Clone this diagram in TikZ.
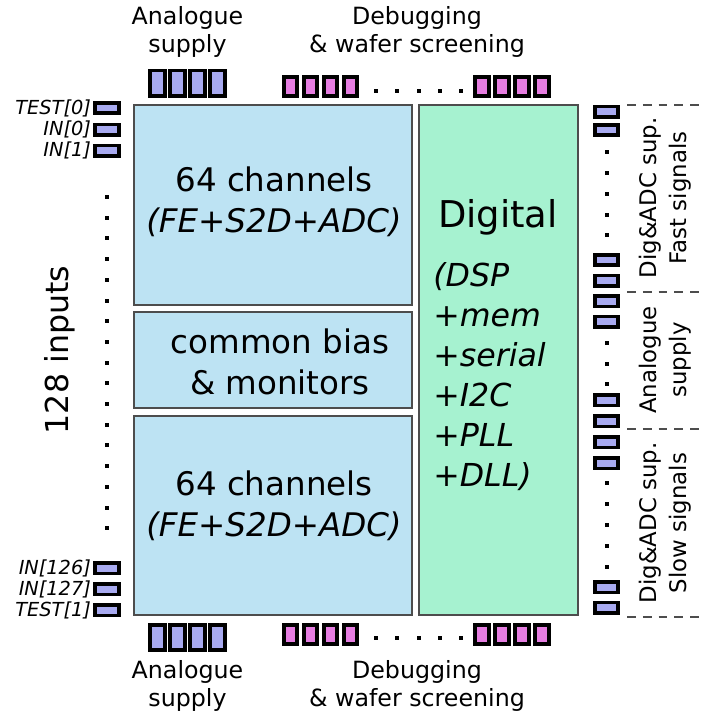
\documentclass[tikz,border=0pt]{standalone}
\usepackage{fontspec}
\setmainfont{DejaVu Sans}
\usetikzlibrary{positioning,calc}

\definecolor{chanblue}{HTML}{BDE3F3}
\definecolor{digigreen}{HTML}{A6F2D0}
\definecolor{padblue}{HTML}{A8AAF0}
\definecolor{padpink}{HTML}{E67DE1}
\definecolor{blockline}{HTML}{4D4D4D}

\begin{document}
\begin{tikzpicture}[x=0.02cm, y=-0.02cm,
				      every node/.style={align=center, inner sep=0pt},
				      block/.style={
						      draw=blockline, line width=1pt,
						      fill=chanblue, minimum width=5.56cm
					      },
				      digiblock/.style={
						      draw=blockline, line width=1pt,
						      fill=digigreen, minimum width=3.18cm, minimum height=10.2cm
					      },
				      bigtext/.style={font=\fontsize{18.5}{23.3}\selectfont},
				      padtext/.style={font=\fontsize{13.5}{16}\selectfont},
				      sidetext/.style={font=\fontsize{13}{17}\selectfont, rotate=90},
				      apad/.style={
						      draw, line width=2pt, fill=padblue,
						      minimum width=0.31cm, minimum height=0.51cm
					      },
				      dpad/.style={
						      draw, line width=2pt, fill=padpink,
						      minimum width=0.27cm, minimum height=0.39cm
					      },
				      inpad/.style={
						      draw, line width=2pt, fill=padblue,
						      minimum width=0.49cm, minimum height=0.21cm
					      },
				      rpad/.style={
						      draw, line width=2pt, fill=padblue,
						      minimum width=0.47cm, minimum height=0.21cm
					      },
				      pindot/.style={fill=black, minimum size=0.08cm},
				      sepline/.style={draw=blockline, line width=0.7pt, dash pattern=on 5pt off 4pt}
			      ]
			      \useasboundingbox (0,0) rectangle (704,718);

			      % Analogue blocks and digital block
			      \node[block, minimum height=4cm] (chtop) at (273,205) {};
			      \node[block, minimum height=1.92cm] (bias) at (273,360) {};
			      \node[block, minimum height=3.98cm] (chbot) at (273,515.5) {};
			      \node[digiblock] (digital) at (498.5,360) {};

			      \node[bigtext] (chtoptext) at (274,202) {64 channels\\\textit{(FE+S2D+ADC)}};
			      \node[bigtext] (biastext) at (280,362) {common bias\\\& monitors};
			      \node[bigtext] (chbottext) at (274,505.5) {64 channels\\\textit{(FE+S2D+ADC)}};
			      \node[font=\fontsize{21}{25}\selectfont] (digitext) at (498,217) {Digital};
			      \node[font=\fontsize{18}{22.8}\selectfont\itshape, align=left, anchor=west] (digilist)
			      at (433,376.5) {(DSP\\+mem\\+serial\\+I2C\\+PLL\\+DLL)};

			      % Top and bottom pad rows
			      \foreach \i in {0,...,3} {
					      \node[apad] (atop\i) at ({157.5+20*\i},83) {};
					      \node[apad] (abot\i) at ({157.5+20*\i},637.5) {};
					      \node[dpad] (dtopl\i) at ({290.5+20*\i},86.5) {};
					      \node[dpad] (dtopr\i) at ({482+20*\i},86.5) {};
					      \node[dpad] (dbotl\i) at ({290.5+20*\i},634.5) {};
					      \node[dpad] (dbotr\i) at ({482+20*\i},634.5) {};
				      }
			      \foreach \i in {0,...,4} {
					      \node[pindot] (dtop\i) at ({376+21.25*\i},91) {};
					      \node[pindot] (dbot\i) at ({376+21.25*\i},638) {};
				      }

			      \node[padtext] (asuptop) at (187.5,32) {Analogue\\supply};
			      \node[padtext] (debugtop) at (417,32) {Debugging\\\& wafer screening};
			      \node[padtext] (asupbot) at (187.5,686) {Analogue\\supply};
			      \node[padtext] (debugbot) at (417,686) {Debugging\\\& wafer screening};

			      % Input pads on the left
			      \foreach \name/\y [count=\k] in {TEST[0]/108, IN[0]/129.5, IN[1]/150.5, IN[126]/568, IN[127]/589, TEST[1]/610} {
					      \node[inpad] (in\k) at (107,\y) {};
					      \node[font=\fontsize{11}{12}\selectfont\itshape, left=1pt of in\k] (inlabel\k) {\name};
				      }
			      \foreach \i in {0,...,16}
			      \node[pindot] (indot\i) at (107,{197+20.7*\i}) {};
			      \node[font=\fontsize{18}{22}\selectfont, rotate=90] (inputs) at (60,350) {128 inputs};

			      % Pads on the right
			      \foreach \y [count=\k] in {111.5,130,260,280.5,301,321.5,400,421,442,463,587,607.5}
			      \node[rpad] (r\k) at (606.5,\y) {};
			      \foreach \y [count=\k] in {152,173,194,215,235,343,364,384,483,504,525,546,567}
			      \node[pindot] (rdot\k) at (606.5,\y) {};

			      \foreach \y in {105,292,429,617}
			      \draw[sepline] (627,\y) -- (704,\y);
			      \node[sidetext] (fastsig) at (665,198) {Dig\&ADC sup.\\Fast signals};
			      \node[sidetext] (asupside) at (665,360) {Analogue\\supply};
			      \node[sidetext] (slowsig) at (665,523) {Dig\&ADC sup.\\Slow signals};
		      \end{tikzpicture}
\end{document}
